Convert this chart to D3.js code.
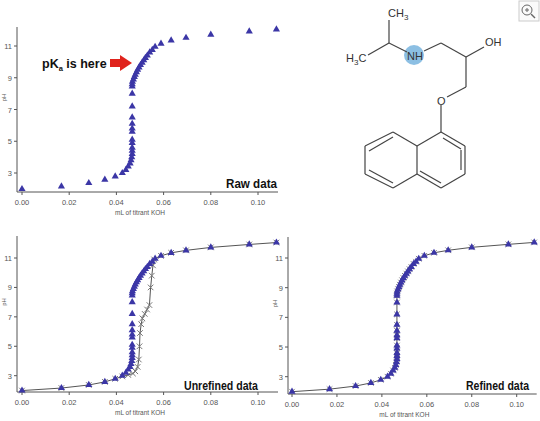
<!DOCTYPE html><html><head><meta charset="utf-8"><script src="https://cdn.jsdelivr.net/npm/d3@7"></script>
<style>body{margin:0;background:#fff}svg{display:block}</style></head><body><svg id="c" width="540" height="421"></svg>
<script>
// raw data (triangles): mL titrant, pH
const rawX=[0,0.0167,0.0283,0.0351,0.0395,0.0425,0.044,0.045,0.0458,0.0462,0.0465,0.0467,0.0467,0.0467,0.0467,0.0467,0.0467,0.0467,0.0467,0.0467,0.0467,0.0467,0.0467,0.0467,0.0468,0.0472,0.0476,0.048,0.0485,0.049,0.0496,0.0502,0.0509,0.0516,0.0523,0.0531,0.0541,0.0552,0.0564,0.0589,0.0632,0.0695,0.080,0.0963,0.1078];
const rawPH=[1.99,2.16,2.37,2.58,2.79,3.0,3.2,3.42,3.6,3.8,4.0,4.2,4.4,4.6,4.9,5.1,5.6,5.8,6.1,6.5,7.2,8.0,8.46,8.6,8.75,8.9,9.05,9.2,9.35,9.5,9.65,9.8,9.95,10.1,10.25,10.4,10.6,10.75,10.95,11.15,11.35,11.52,11.72,11.92,12.05];
// unrefined model (crosses)
const unrefX=[0,0.0167,0.0283,0.0351,0.0395,0.0425,0.045,0.047,0.048,0.049,0.0495,0.0498,0.05,0.0505,0.051,0.052,0.053,0.054,0.0545,0.055,0.0555,0.056,0.0589,0.0632,0.0695,0.080,0.0963,0.1078];
const unrefPH=[1.99,2.16,2.37,2.58,2.79,2.95,3.05,3.15,3.3,3.6,4.1,5.0,5.9,6.5,6.9,7.2,7.5,7.8,9.0,9.8,10.5,10.9,11.15,11.35,11.52,11.72,11.92,12.05];
const xTicks=[0,0.02,0.04,0.06,0.08,0.10];
const yTicks=[3,5,7,9,11];
const panels=[
 {x0:22,x1:258,yA:46,yB:173,axisY:192,top:27,left:17,title:"Raw data",tw:51,tx:277,ty:188,line:null},
 {x0:22,x1:258,yA:258,yB:375.7,axisY:392,top:236,left:17,title:"Unrefined data",tw:74,tx:258,ty:390,line:"unref"},
 {x0:292,x1:516.7,yA:258,yB:376.7,axisY:394,top:237,left:288,title:"Refined data",tw:63,tx:529,ty:390,line:"ref"}];
const svg=d3.select("#c");
const tri=d3.symbol().type(d3.symbolTriangle).size(22);
const cross=d3.symbol().type(d3.symbolX).size(22);
panels.forEach(p=>{
 const x=d3.scaleLinear().domain([0,0.1]).range([p.x0,p.x1]);
 const y=d3.scaleLinear().domain([3,11]).range([p.yB,p.yA]);
 const g=svg.append("g");
 const right=x(0.1)+20;
 g.append("line").attr("x1",p.left).attr("x2",right).attr("y1",p.axisY).attr("y2",p.axisY).attr("stroke","#555");
 g.append("line").attr("x1",p.left).attr("x2",p.left).attr("y1",p.top).attr("y2",p.axisY).attr("stroke","#555");
 xTicks.forEach(t=>{g.append("line").attr("x1",x(t)).attr("x2",x(t)).attr("y1",p.axisY).attr("y2",p.axisY+3).attr("stroke","#555");
  g.append("text").attr("x",x(t)).attr("y",p.axisY+13).attr("text-anchor","middle").attr("font-size",7.5).attr("fill","#555").attr("font-family","Liberation Sans").text(t.toFixed(2));});
 yTicks.forEach(t=>{g.append("line").attr("x1",p.left-3).attr("x2",p.left).attr("y1",y(t)).attr("y2",y(t)).attr("stroke","#555");
  g.append("text").attr("x",p.left-5).attr("y",y(t)+3).attr("text-anchor","end").attr("font-size",7.5).attr("fill","#555").attr("font-family","Liberation Sans").text(t);});
 g.append("text").attr("x",(p.x0+p.x1)/2).attr("y",p.axisY+23).attr("text-anchor","middle").attr("font-size",6.5).attr("fill","#555").attr("font-family","Liberation Sans").text("mL of titrant KOH");
 g.append("text").attr("transform",`translate(${p.left-11},${(p.top+p.axisY)/2-12}) rotate(-90)`).attr("text-anchor","middle").attr("font-size",6).attr("fill","#555").attr("font-family","Liberation Sans").text("pH");
 const ln=d3.line().x(d=>x(d[0])).y(d=>y(d[1]));
 if(p.line==="unref"){
  const pts=unrefX.map((v,i)=>[v,unrefPH[i]]);
  g.append("path").attr("d",ln(pts)).attr("fill","none").attr("stroke","#555").attr("stroke-width",1);
  g.selectAll(".cx").data(pts).enter().append("path").attr("d",cross).attr("transform",d=>`translate(${x(d[0])},${y(d[1])})`).attr("stroke","#777").attr("fill","#777");
 }
 if(p.line==="ref"){
  const pts=rawX.map((v,i)=>[v,rawPH[i]]);
  g.append("path").attr("d",ln(pts)).attr("fill","none").attr("stroke","#555").attr("stroke-width",1);
  g.selectAll(".cx").data(pts).enter().append("path").attr("d",cross).attr("transform",d=>`translate(${x(d[0])},${y(d[1])})`).attr("stroke","#888").attr("fill","#888");
 }
 g.selectAll(".tr").data(rawX.map((v,i)=>[v,rawPH[i]])).enter().append("path").attr("d",tri).attr("transform",d=>`translate(${x(d[0])},${y(d[1])})`).attr("fill","#3b36a6");
 g.append("text").attr("x",p.tx-p.tw).attr("y",p.ty).attr("textLength",p.tw).attr("lengthAdjust","spacingAndGlyphs").attr("font-size",13).attr("font-weight","bold").attr("fill","#111").attr("font-family","Liberation Sans").text(p.title);
});
// pKa annotation
const ann=svg.append("g");
const t=ann.append("text").attr("x",42).attr("y",68).attr("font-size",12.5).attr("font-weight","bold").attr("font-family","Liberation Sans").attr("fill","#111");
t.append("tspan").text("pK");t.append("tspan").attr("font-size",7.5).attr("dy",3).text("a");t.append("tspan").attr("dy",-3).text(" is here");
ann.append("path").attr("d","M110,59 L120,59 L120,55 L132,63 L120,71 L120,67 L110,67 Z").attr("fill","#e0231c");
// molecule
const m=svg.append("g").attr("stroke","#444").attr("stroke-width",1.2).attr("fill","none");
m.append("circle").attr("cx",414).attr("cy",55).attr("r",10).attr("fill","#7fb8e0").attr("stroke","none").attr("opacity",0.9);
const bonds=[[389,20,389,43],[389,43,368,55],[389,43,407,52],[424,51,441,43],[441,43,466,57],[466,57,484,47],[466,57,466,87],[466,87,447,97],[441,105,441,132],
[441,132,465,146],[465,146,465,174],[465,174,441,188],[441,188,417,174],[417,174,417,146],[417,146,441,132],
[417,146,393,132],[393,132,365,146],[365,146,365,174],[365,174,393,188],[393,188,417,174],
[443,138,461,149],[461,150,461,170],[441,183,420,171],[393,137,369,151],[369,170,393,183]];
bonds.forEach(b=>m.append("line").attr("x1",b[0]).attr("y1",b[1]).attr("x2",b[2]).attr("y2",b[3]));
const lab=svg.append("g").attr("font-family","Liberation Sans").attr("font-size",11).attr("fill","#333");
lab.append("text").attr("x",388).attr("y",17).text("CH").append("tspan").attr("font-size",8).attr("dy",3).text("3");
const h3=lab.append("text").attr("x",346).attr("y",62);h3.append("tspan").text("H");h3.append("tspan").attr("font-size",8).attr("dy",3).text("3");h3.append("tspan").attr("dy",-3).text("C");
lab.append("text").attr("x",407).attr("y",60).text("NH");
lab.append("text").attr("x",485).attr("y",46).text("OH");
lab.append("text").attr("x",437).attr("y",105).text("O");
// zoom icon
const z=svg.append("g").attr("stroke","#666").attr("fill","none");
z.append("rect").attr("x",519).attr("y",1).attr("width",20).attr("height",20).attr("fill","#fafafa").attr("stroke","#ccc");
z.append("circle").attr("cx",527).attr("cy",10).attr("r",5);
z.append("line").attr("x1",531).attr("y1",14).attr("x2",535).attr("y2",18).attr("stroke-width",1.5);
z.append("path").attr("d","M525,10 L529,10 M527,8 L527,12");
</script></body></html>
